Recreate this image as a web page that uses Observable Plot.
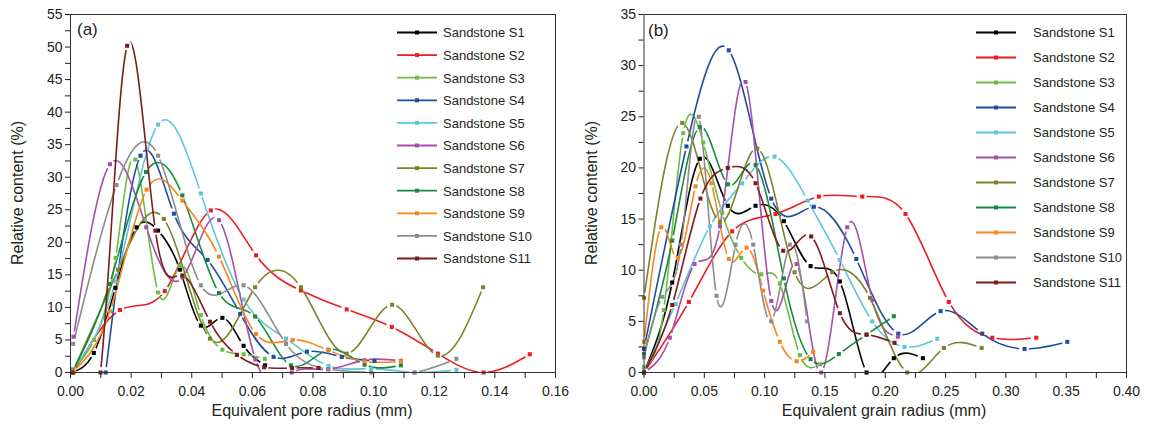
<!DOCTYPE html>
<html><head><meta charset="utf-8">
<script src="https://cdn.jsdelivr.net/npm/d3@7"></script>
<script src="https://cdn.jsdelivr.net/npm/@observablehq/plot@0.6"></script>
<style>
body{margin:0;background:#fff;}
#wrap{position:relative;width:1153px;height:432px;overflow:hidden;background:#fff;font-family:"Liberation Sans",Arial,sans-serif;}
.panel{position:absolute;top:0;}
#overlay{position:absolute;left:0;top:0;pointer-events:none;}
</style></head>
<body><div id="wrap"></div>
<script>
// ---------- series names and colours ----------
const names = ["Sandstone S1","Sandstone S2","Sandstone S3","Sandstone S4","Sandstone S5","Sandstone S6","Sandstone S7","Sandstone S8","Sandstone S9","Sandstone S10","Sandstone S11"];
const colors = ["#000000","#ED1C24","#6CBD45","#1F4EA1","#5EC6DB","#A650A8","#80802A","#168A3E","#F7861F","#8C8C8C","#7E1B1D"];

// ---------- panel (a): equivalent pore radius (mm) vs relative content (%) ----------
const poreS1  = [[0.0005,0],[0.0077,3.0],[0.0148,13],[0.0218,22.3],[0.0289,21.8],[0.0361,15.8],[0.043,7.2],[0.0501,8.4],[0.0571,4.1],[0.0642,1.1]];
const poreS2  = [[0.001,0],[0.0163,9.6],[0.0311,12.5],[0.0463,24.9],[0.0612,18.0],[0.076,12.6],[0.0911,9.7],[0.106,7.0],[0.1212,2.9],[0.1363,0],[0.1515,2.8]];
const poreS3  = [[0.0008,0.5],[0.0078,5],[0.0149,17.6],[0.0214,32.7],[0.0289,12.3],[0.0361,16.4],[0.043,8.8],[0.0501,3.5],[0.0571,2.8],[0.0641,2.1]];
const poreS4  = [[0.0116,0],[0.0231,33.3],[0.0341,24.4],[0.0452,17.3],[0.056,9],[0.067,2.4],[0.078,3.2],[0.0895,2.4],[0.1003,1.8]];
const poreS5  = [[0.0008,0.5],[0.0149,14],[0.0289,38.1],[0.043,27.5],[0.0571,11.2],[0.0711,5.2],[0.0851,1.0],[0.0992,0.6],[0.1135,0],[0.1273,0.4]];
const poreS6  = [[0.001,5.5],[0.013,32.0],[0.025,22.3],[0.037,14.6],[0.049,23.4],[0.061,2.0],[0.073,0],[0.085,0.5],[0.097,1.9],[0.109,1.8]];
const poreS7  = [[0.0006,0],[0.0157,15.8],[0.0308,23.6],[0.046,5.2],[0.0609,13.1],[0.076,13.1],[0.0911,2.9],[0.1061,10.4],[0.1212,2.6],[0.1361,13.1]];
const poreS8  = [[0.0009,0.3],[0.0129,13.6],[0.0249,30.8],[0.0369,27.2],[0.049,12.2],[0.0609,8.6],[0.0727,1.1],[0.0851,3.5],[0.097,1.2],[0.109,1.1]];
const poreS9  = [[0.001,0.2],[0.013,9.4],[0.0251,28.1],[0.0369,26.4],[0.049,17.8],[0.0612,5.9],[0.0733,5.0],[0.0851,3.4],[0.097,1.7],[0.109,1.7]];
const poreS10 = [[0.0009,4.4],[0.0152,28.8],[0.0289,33.3],[0.043,13.4],[0.0571,13.4],[0.0711,4.4],[0.0851,0.5],[0.0992,0],[0.1135,0],[0.1273,2.1]];
const poreS11 = [[0.0006,0],[0.0099,0],[0.0187,50.2],[0.028,21.8],[0.0369,14.9],[0.046,7.8],[0.0549,2.7],[0.0639,0.8],[0.0731,0.7],[0.0818,0.7]];

// ---------- panel (b): equivalent grain radius (mm) vs relative content (%) ----------
const grainS1  = [[0,0],[0.0234,8.8],[0.0463,20.9],[0.0695,16.3],[0.0925,16.3],[0.1159,14.8],[0.1381,10.4],[0.1624,8.9],[0.1845,0],[0.2071,1.4],[0.2312,1.4]];
const grainS2  = [[0,0],[0.0372,6.9],[0.0731,13.8],[0.109,15.5],[0.145,17.2],[0.1809,17.2],[0.2168,15.5],[0.2527,6.9],[0.2887,3.4],[0.3252,3.4]];
const grainS3  = [[0,0.5],[0.0164,6.1],[0.0325,23.4],[0.0491,22.5],[0.0648,15.6],[0.0806,11.2],[0.0972,9.6],[0.1126,8.7],[0.1292,1.7],[0.1458,0.8]];
const grainS4  = [[0,2.3],[0.0352,22.1],[0.0703,31.5],[0.1055,17.0],[0.1408,16.2],[0.176,11.1],[0.2108,3.8],[0.2459,6.0],[0.2804,3.8],[0.3155,2.3],[0.3509,3.0]];
const grainS5  = [[0,0],[0.0261,6.7],[0.0546,14.3],[0.0814,18.5],[0.1082,21.1],[0.1358,16.8],[0.1624,11.0],[0.1892,5.0],[0.216,2.5],[0.2431,3.3]];
const grainS6  = [[0,0],[0.0214,3.4],[0.0419,10.6],[0.063,14.3],[0.0842,28.4],[0.1055,7.0],[0.1265,10.6],[0.1469,0],[0.1685,14.2],[0.1892,7.1],[0.2105,3.5]];
const grainS7  = [[0,7.3],[0.0317,24.4],[0.0629,14.7],[0.0939,21.9],[0.1248,9.8],[0.156,9.8],[0.1873,7.3],[0.2182,0],[0.2486,2.4],[0.2799,2.4]];
const grainS8  = [[0,1.8],[0.0234,12.9],[0.0463,24.0],[0.0695,18.4],[0.0925,20.3],[0.1159,9.2],[0.1381,1.3],[0.1615,1.8],[0.1845,3.7],[0.2071,5.5]];
const grainS9  = [[0,3],[0.0143,14.2],[0.028,11.2],[0.0427,18.2],[0.056,18.5],[0.0703,11.1],[0.085,12.2],[0.0988,8.0],[0.1126,3.0],[0.1265,1.1],[0.1403,2.0]];
const grainS10 = [[0,1.5],[0.0151,7.4],[0.0308,12.5],[0.0454,25.0],[0.0601,7.5],[0.0759,12.5],[0.0905,12.5],[0.1055,5.0],[0.1209,12.5],[0.1353,5.0]];
const grainS11 = [[0,0],[0.0234,6.6],[0.0468,17.0],[0.0695,20.0],[0.0925,18.5],[0.1154,11.9],[0.1386,13.3],[0.1624,5.8],[0.1845,3.7],[0.2077,2.9]];

// ---------- axis labels / texts ----------
const poreXLabel = "Equivalent pore radius (mm)";
const grainXLabel = "Equivalent grain radius (mm)";
const yLabel = "Relative content (%)";

const TEXT = "#231F20";
const FONT = '"Liberation Sans", Arial, sans-serif';
const H = 432;

const wrap = document.getElementById("wrap");

function near(v, step) { const q = v / step; return Math.abs(q - Math.round(q)) < 1e-6; }

function drawPanel(o) {
  const marks = [];
  o.series.forEach((pts, i) => {
    const rows = pts.map(([x, y]) => ({x, y}));
    marks.push(Plot.line(rows, {x: "x", y: "y", stroke: colors[i], strokeWidth: 1.6, curve: "natural", clip: true}));
  });
  o.series.forEach((pts, i) => {
    const rows = pts.map(([x, y]) => ({x, y}));
    marks.push(Plot.dot(rows, {x: "x", y: "y", symbol: "square", r: 2.3, fill: colors[i], stroke: "none"}));
  });
  const xTicks = d3.range(0, Math.round(o.xDomain[1] / o.xStep) + 1).map(i => +(i * o.xStep).toFixed(4));
  const yTicks = d3.range(0, Math.round(o.yDomain[1] / o.yStep) + 1).map(i => +(i * o.yStep).toFixed(4));
  marks.push(Plot.axisX({ticks: xTicks, tickSize: 6, tickPadding: 8, label: null,
    tickFormat: d => near(d, o.xLabelStep) ? d.toFixed(2) : ""}));
  marks.push(Plot.axisY({ticks: yTicks, tickSize: 5, tickPadding: 3, label: null,
    tickFormat: d => near(d, o.yLabelStep) ? String(d) : ""}));
  marks.push(Plot.frame({stroke: "#333", strokeWidth: 1}));

  const svg = Plot.plot({
    width: o.width, height: H,
    marginTop: 14, marginBottom: 60, marginLeft: o.marginLeft, marginRight: o.marginRight,
    x: {domain: o.xDomain}, y: {domain: o.yDomain},
    style: {fontFamily: FONT, fontSize: "14px", color: TEXT, background: "transparent", overflow: "visible"},
    marks
  });

  // gaps in each line around its own markers (Origin-like style)
  const xs = svg.scale("x"), ys = svg.scale("y");
  const ns = "http://www.w3.org/2000/svg";
  const defs = document.createElementNS(ns, "defs");
  svg.insertBefore(defs, svg.firstChild);
  const lineGs = svg.querySelectorAll('g[aria-label="line"]');
  lineGs.forEach((g, i) => {
    const id = "gap-" + o.key + "-" + i;
    const m = document.createElementNS(ns, "mask");
    m.setAttribute("id", id);
    m.setAttribute("maskUnits", "userSpaceOnUse");
    m.setAttribute("x", -20); m.setAttribute("y", -20);
    m.setAttribute("width", o.width + 40); m.setAttribute("height", H + 40);
    const r = document.createElementNS(ns, "rect");
    r.setAttribute("x", -20); r.setAttribute("y", -20);
    r.setAttribute("width", o.width + 40); r.setAttribute("height", H + 40);
    r.setAttribute("fill", "white");
    m.appendChild(r);
    o.series[i].forEach(([x, y]) => {
      const c = document.createElementNS(ns, "circle");
      c.setAttribute("cx", xs.apply(x)); c.setAttribute("cy", ys.apply(y));
      c.setAttribute("r", 5); c.setAttribute("fill", "black");
      m.appendChild(c);
    });
    defs.appendChild(m);
    g.setAttribute("mask", "url(#" + id + ")");
  });

  const div = document.createElement("div");
  div.className = "panel";
  div.style.left = o.left + "px";
  div.appendChild(svg);
  wrap.appendChild(div);
}

drawPanel({key: "a", series: [poreS1,poreS2,poreS3,poreS4,poreS5,poreS6,poreS7,poreS8,poreS9,poreS10,poreS11],
  xDomain: [0, 0.16], yDomain: [0, 55], xStep: 0.01, xLabelStep: 0.02, yStep: 2.5, yLabelStep: 5,
  width: 576, marginLeft: 70, marginRight: 21, left: 0});
drawPanel({key: "b", series: [grainS1,grainS2,grainS3,grainS4,grainS5,grainS6,grainS7,grainS8,grainS9,grainS10,grainS11],
  xDomain: [0, 0.40], yDomain: [0, 35], xStep: 0.025, xLabelStep: 0.05, yStep: 2.5, yLabelStep: 5,
  width: 577, marginLeft: 67.5, marginRight: 27, left: 576});

// ---------- overlay: axis titles, panel letters, legends ----------
const ov = d3.select(wrap).append("svg").attr("id", "overlay").attr("width", 1153).attr("height", H)
  .style("font-family", FONT).attr("fill", TEXT);

ov.append("text").attr("x", 312).attr("y", 416).attr("text-anchor", "middle").attr("font-size", 16).text(poreXLabel);
ov.append("text").attr("x", 884).attr("y", 416).attr("text-anchor", "middle").attr("font-size", 16).text(grainXLabel);
ov.append("text").attr("transform", "translate(23,193) rotate(-90)").attr("text-anchor", "middle").attr("font-size", 16).text(yLabel);
ov.append("text").attr("transform", "translate(597,193) rotate(-90)").attr("text-anchor", "middle").attr("font-size", 16).text(yLabel);
ov.append("text").attr("x", 77).attr("y", 35).attr("font-size", 17).text("(a)");
ov.append("text").attr("x", 648).attr("y", 36).attr("font-size", 17).text("(b)");

function legend(x0, y0, dy, textGap) {
  names.forEach((n, i) => {
    const y = y0 + i * dy;
    ov.append("line").attr("x1", x0).attr("x2", x0 + 40).attr("y1", y).attr("y2", y)
      .attr("stroke", colors[i]).attr("stroke-width", 1.8);
    ov.append("rect").attr("x", x0 + 18).attr("y", y - 2).attr("width", 4).attr("height", 4).attr("fill", colors[i]);
    ov.append("text").attr("x", x0 + textGap).attr("y", y + 4.8).attr("font-size", 13).text(n);
  });
}
legend(397, 32.5, 22.6, 46);
legend(976, 32.5, 25, 57);
</script>
</body></html>
